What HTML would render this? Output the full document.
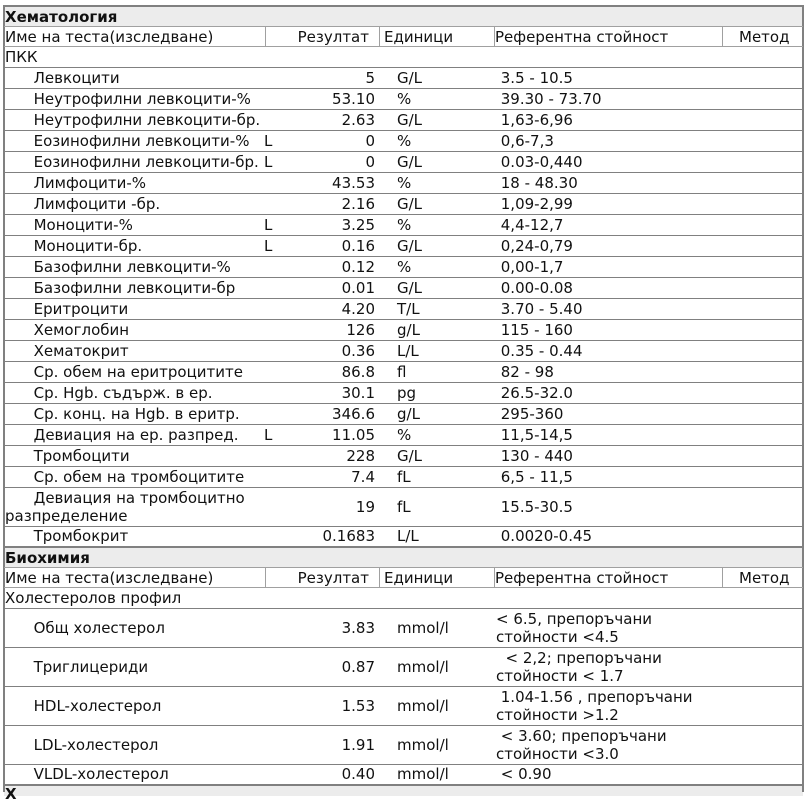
<!DOCTYPE html>
<html><head><meta charset="utf-8">
<style>
html,body{margin:0;padding:0;background:#fff;}
body{width:809px;height:792px;overflow:hidden;position:relative;font-family:"DejaVu Sans","Liberation Sans",sans-serif;font-size:15px;color:#111;}
.ln{position:absolute;left:4px;width:799px;height:1px;background:#808080;}
.lh{position:absolute;left:4px;width:799px;height:1px;background:#a0a0a0;}
.vs{position:absolute;width:1px;background:#a0a0a0;}
.r{position:absolute;left:0;width:809px;}
.c{position:absolute;top:0;height:100%;display:flex;align-items:center;white-space:pre;line-height:18px;}
.b{font-weight:bold;}
.hb{position:absolute;left:4px;width:799px;background:#ececec;}
.n{left:5px;}
.f{left:264px;}
.v{left:280px;width:95px;justify-content:flex-end;}
.u{left:397px;}
.rf{left:496px;}
</style></head><body>

<!-- header backgrounds -->
<div class="hb" style="top:7px;height:19px;"></div>
<div class="hb" style="top:548px;height:19px;"></div>
<div class="hb" style="top:786px;height:10px;"></div>

<!-- outer borders -->
<div style="position:absolute;left:3px;top:5px;width:801px;height:2px;background:#808080;"></div>
<div style="position:absolute;left:3px;top:5px;width:2px;height:787px;background:#808080;"></div>
<div style="position:absolute;left:802px;top:5px;width:2px;height:787px;background:#808080;"></div>
<div style="position:absolute;left:3px;top:546px;width:801px;height:2px;background:#808080;"></div>
<div style="position:absolute;left:3px;top:784px;width:801px;height:2px;background:#808080;"></div>

<!-- header lines -->
<div class="lh" style="top:26px"></div>
<div class="lh" style="top:46px"></div>
<div class="vs" style="left:265px;top:27px;height:19px"></div>
<div class="vs" style="left:379px;top:27px;height:19px"></div>
<div class="vs" style="left:494px;top:27px;height:19px"></div>
<div class="vs" style="left:722px;top:27px;height:19px"></div>

<div class="lh" style="top:567px"></div>
<div class="lh" style="top:587px"></div>
<div class="vs" style="left:265px;top:568px;height:19px"></div>
<div class="vs" style="left:379px;top:568px;height:19px"></div>
<div class="vs" style="left:494px;top:568px;height:19px"></div>
<div class="vs" style="left:722px;top:568px;height:19px"></div>

<!-- data lines hematology -->
<div class="ln" style="top:67px"></div>
<div class="ln" style="top:88px"></div>
<div class="ln" style="top:109px"></div>
<div class="ln" style="top:130px"></div>
<div class="ln" style="top:151px"></div>
<div class="ln" style="top:172px"></div>
<div class="ln" style="top:193px"></div>
<div class="ln" style="top:214px"></div>
<div class="ln" style="top:235px"></div>
<div class="ln" style="top:256px"></div>
<div class="ln" style="top:277px"></div>
<div class="ln" style="top:298px"></div>
<div class="ln" style="top:319px"></div>
<div class="ln" style="top:340px"></div>
<div class="ln" style="top:361px"></div>
<div class="ln" style="top:382px"></div>
<div class="ln" style="top:403px"></div>
<div class="ln" style="top:424px"></div>
<div class="ln" style="top:445px"></div>
<div class="ln" style="top:466px"></div>
<div class="ln" style="top:487px"></div>
<div class="ln" style="top:526px"></div>
<!-- data lines biochem -->
<div class="ln" style="top:608px"></div>
<div class="ln" style="top:647px"></div>
<div class="ln" style="top:686px"></div>
<div class="ln" style="top:725px"></div>
<div class="ln" style="top:764px"></div>

<!-- Hematology -->
<div class="r" style="top:7px;height:19px"><div class="c n b">Хематология</div></div>
<div class="r" style="top:27px;height:19px">
 <div class="c n">Име на теста(изследване)</div>
 <div class="c" style="left:270px;width:99px;justify-content:flex-end;">Резултат</div>
 <div class="c" style="left:384px">Единици</div>
 <div class="c" style="left:495px">Референтна стойност</div>
 <div class="c" style="left:739px">Метод</div>
</div>
<div class="r" style="top:47px;height:20px"><div class="c n">ПКК</div></div>

<div class="r" style="top:67px;height:21px"><div class="c n">      Левкоцити</div><div class="c v">5</div><div class="c u">G/L</div><div class="c rf"> 3.5 - 10.5</div></div>
<div class="r" style="top:88px;height:21px"><div class="c n">      Неутрофилни левкоцити-%</div><div class="c v">53.10</div><div class="c u">%</div><div class="c rf"> 39.30 - 73.70</div></div>
<div class="r" style="top:109px;height:21px"><div class="c n">      Неутрофилни левкоцити-бр.</div><div class="c v">2.63</div><div class="c u">G/L</div><div class="c rf"> 1,63-6,96</div></div>
<div class="r" style="top:130px;height:21px"><div class="c n">      Еозинофилни левкоцити-%</div><div class="c f">L</div><div class="c v">0</div><div class="c u">%</div><div class="c rf"> 0,6-7,3</div></div>
<div class="r" style="top:151px;height:21px"><div class="c n">      Еозинофилни левкоцити-бр.</div><div class="c f">L</div><div class="c v">0</div><div class="c u">G/L</div><div class="c rf"> 0.03-0,440</div></div>
<div class="r" style="top:172px;height:21px"><div class="c n">      Лимфоцити-%</div><div class="c v">43.53</div><div class="c u">%</div><div class="c rf"> 18 - 48.30</div></div>
<div class="r" style="top:193px;height:21px"><div class="c n">      Лимфоцити -бр.</div><div class="c v">2.16</div><div class="c u">G/L</div><div class="c rf"> 1,09-2,99</div></div>
<div class="r" style="top:214px;height:21px"><div class="c n">      Моноцити-%</div><div class="c f">L</div><div class="c v">3.25</div><div class="c u">%</div><div class="c rf"> 4,4-12,7</div></div>
<div class="r" style="top:235px;height:21px"><div class="c n">      Моноцити-бр.</div><div class="c f">L</div><div class="c v">0.16</div><div class="c u">G/L</div><div class="c rf"> 0,24-0,79</div></div>
<div class="r" style="top:256px;height:21px"><div class="c n">      Базофилни левкоцити-%</div><div class="c v">0.12</div><div class="c u">%</div><div class="c rf"> 0,00-1,7</div></div>
<div class="r" style="top:277px;height:21px"><div class="c n">      Базофилни левкоцити-бр</div><div class="c v">0.01</div><div class="c u">G/L</div><div class="c rf"> 0.00-0.08</div></div>
<div class="r" style="top:298px;height:21px"><div class="c n">      Еритроцити</div><div class="c v">4.20</div><div class="c u">T/L</div><div class="c rf"> 3.70 - 5.40</div></div>
<div class="r" style="top:319px;height:21px"><div class="c n">      Хемоглобин</div><div class="c v">126</div><div class="c u">g/L</div><div class="c rf"> 115 - 160</div></div>
<div class="r" style="top:340px;height:21px"><div class="c n">      Хематокрит</div><div class="c v">0.36</div><div class="c u">L/L</div><div class="c rf"> 0.35 - 0.44</div></div>
<div class="r" style="top:361px;height:21px"><div class="c n">      Ср. обем на еритроцитите</div><div class="c v">86.8</div><div class="c u">fl</div><div class="c rf"> 82 - 98</div></div>
<div class="r" style="top:382px;height:21px"><div class="c n">      Ср. Hgb. съдърж. в ер.</div><div class="c v">30.1</div><div class="c u">pg</div><div class="c rf"> 26.5-32.0</div></div>
<div class="r" style="top:403px;height:21px"><div class="c n">      Ср. конц. на Hgb. в еритр.</div><div class="c v">346.6</div><div class="c u">g/L</div><div class="c rf"> 295-360</div></div>
<div class="r" style="top:424px;height:21px"><div class="c n">      Девиация на ер. разпред.</div><div class="c f">L</div><div class="c v">11.05</div><div class="c u">%</div><div class="c rf"> 11,5-14,5</div></div>
<div class="r" style="top:445px;height:21px"><div class="c n">      Тромбоцити</div><div class="c v">228</div><div class="c u">G/L</div><div class="c rf"> 130 - 440</div></div>
<div class="r" style="top:466px;height:21px"><div class="c n">      Ср. обем на тромбоцитите</div><div class="c v">7.4</div><div class="c u">fL</div><div class="c rf"> 6,5 - 11,5</div></div>
<div class="r" style="top:487px;height:39px"><div class="c n">      Девиация на тромбоцитно
разпределение</div><div class="c v">19</div><div class="c u">fL</div><div class="c rf"> 15.5-30.5</div></div>
<div class="r" style="top:526px;height:20px"><div class="c n">      Тромбокрит</div><div class="c v">0.1683</div><div class="c u">L/L</div><div class="c rf"> 0.0020-0.45</div></div>

<!-- Biochemistry -->
<div class="r" style="top:548px;height:19px"><div class="c n b">Биохимия</div></div>
<div class="r" style="top:568px;height:19px">
 <div class="c n">Име на теста(изследване)</div>
 <div class="c" style="left:270px;width:99px;justify-content:flex-end;">Резултат</div>
 <div class="c" style="left:384px">Единици</div>
 <div class="c" style="left:495px">Референтна стойност</div>
 <div class="c" style="left:739px">Метод</div>
</div>
<div class="r" style="top:588px;height:20px"><div class="c n">Холестеролов профил</div></div>

<div class="r" style="top:608px;height:39px"><div class="c n">      Общ холестерол</div><div class="c v">3.83</div><div class="c u">mmol/l</div><div class="c rf">&lt; 6.5, препоръчани
стойности &lt;4.5</div></div>
<div class="r" style="top:647px;height:39px"><div class="c n">      Триглицериди</div><div class="c v">0.87</div><div class="c u">mmol/l</div><div class="c rf">  &lt; 2,2; препоръчани
стойности &lt; 1.7</div></div>
<div class="r" style="top:686px;height:39px"><div class="c n">      HDL-холестерол</div><div class="c v">1.53</div><div class="c u">mmol/l</div><div class="c rf"> 1.04-1.56 , препоръчани
стойности &gt;1.2</div></div>
<div class="r" style="top:725px;height:39px"><div class="c n">      LDL-холестерол</div><div class="c v">1.91</div><div class="c u">mmol/l</div><div class="c rf"> &lt; 3.60; препоръчани
стойности &lt;3.0</div></div>
<div class="r" style="top:764px;height:20px"><div class="c n">      VLDL-холестерол</div><div class="c v">0.40</div><div class="c u">mmol/l</div><div class="c rf"> &lt; 0.90</div></div>

<div class="r" style="top:785px;height:18px"><div class="c n b">Х</div></div>

</body></html>
